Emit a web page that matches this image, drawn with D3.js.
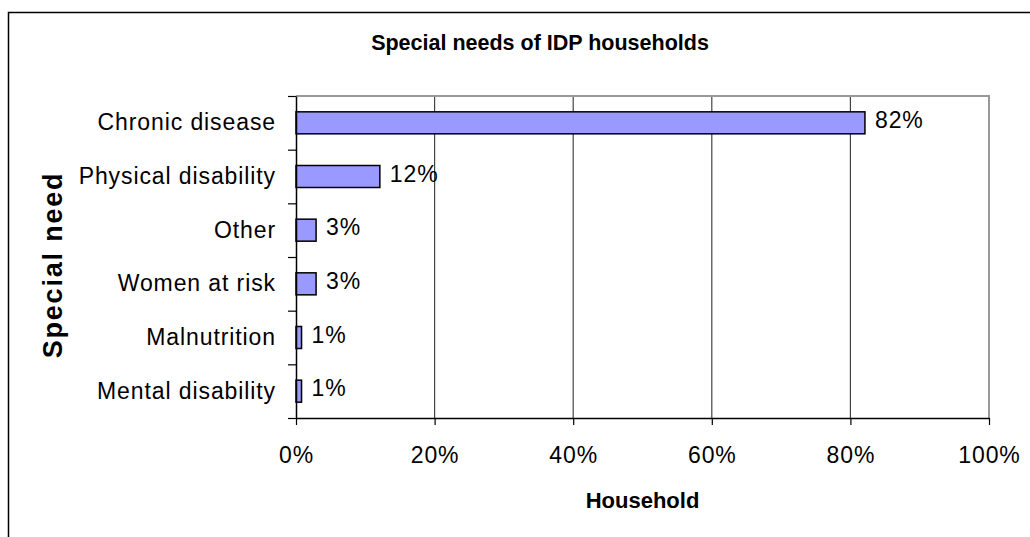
<!DOCTYPE html>
<html>
<head>
	<meta charset="utf-8">
	<title>special-needs-bar</title>
	<style type="text/css">
		body { margin: 0; background: #fff; }
		text { font-family: "Liberation Sans", Arial, sans-serif; }
	</style>
</head>
<body>
<script type="text/javascript" src="https://cdn.jsdelivr.net/npm/d3@7"></script>
<script type="text/javascript">
	// data
	var categories = ["Chronic disease", "Physical disability", "Other", "Women at risk", "Malnutrition", "Mental disability"];
	var values = [82.1, 12.1, 2.9, 2.9, 0.8, 0.8];
	var valueLabels = ["82%", "12%", "3%", "3%", "1%", "1%"];
	var xTicks = [0, 20, 40, 60, 80, 100];

	// size
	var w = 1030, h = 537;
	var plot = {left: 296, right: 989, top: 96, bottom: 418};
	var fs = 23, ls = 0.9; // text size + letter spacing (pdf-ish wide text)

	var svg = d3.select("body").append("svg").attr("width", w).attr("height", h);

	// outer frame (right and bottom edges run off the page)
	svg.append("rect")
		.attr("x", 8.5).attr("y", 12.5)
		.attr("width", w + 20).attr("height", h + 20)
		.attr("fill", "none").attr("stroke", "#000").attr("stroke-width", 1.5);

	/*=====SCALES=====*/
	var x = d3.scaleLinear().domain([0, 100]).range([plot.left, plot.right]);
	var y = d3.scaleBand().domain(categories).range([plot.top, plot.bottom])
		.paddingInner(0.59).paddingOuter(0.295);
	var yEdge = d3.scaleLinear().domain([0, categories.length]).range([plot.top, plot.bottom]);

	// grid
	svg.append("g").selectAll("line")
		.data(xTicks.slice(1, -1))
		.enter().append("line")
		.attr("x1", d => x(d)).attr("x2", d => x(d))
		.attr("y1", plot.top).attr("y2", plot.bottom)
		.attr("stroke", "#444").attr("stroke-width", 1.2);

	// plot frame top + right (grey)
	svg.append("path")
		.attr("d", "M" + plot.left + "," + plot.top + "H" + plot.right + "V" + plot.bottom)
		.attr("fill", "none").attr("stroke", "#999").attr("stroke-width", 2);

	/*=====BARS=====*/
	svg.append("g").selectAll("rect")
		.data(values)
		.enter().append("rect")
		.attr("x", x(0))
		.attr("y", (d, i) => y(categories[i]))
		.attr("width", d => x(d) - x(0))
		.attr("height", y.bandwidth())
		.attr("fill", "#9999ff")
		.attr("stroke", "#000").attr("stroke-width", 1.5);

	// value labels
	svg.append("g").selectAll("text")
		.data(values)
		.enter().append("text")
		.attr("x", d => x(d) + 10)
		.attr("y", (d, i) => y(categories[i]) + y.bandwidth() / 2 - 3)
		.attr("dominant-baseline", "central")
		.attr("font-size", fs).attr("letter-spacing", ls)
		.attr("fill", "#000")
		.text((d, i) => valueLabels[i]);

	/*=====AXES=====*/
	var xAxis = svg.append("g")
		.attr("transform", "translate(0," + plot.bottom + ")")
		.call(d3.axisBottom(x).tickValues(xTicks).tickFormat(d => d + "%").tickSize(7).tickPadding(22).tickSizeOuter(0));
	xAxis.select(".domain").attr("stroke", "#000").attr("stroke-width", 1.5);
	xAxis.selectAll(".tick line").attr("stroke", "#000").attr("stroke-width", 1.2);
	xAxis.selectAll("text").attr("font-size", fs).attr("letter-spacing", ls).attr("font-family", null).attr("fill", "#000");

	// y axis: ticks sit on category boundaries
	var yTickAxis = svg.append("g")
		.attr("transform", "translate(" + plot.left + ",0)")
		.call(d3.axisLeft(yEdge).tickValues(d3.range(categories.length + 1)).tickFormat("").tickSize(8).tickSizeOuter(0));
	yTickAxis.select(".domain").attr("stroke", "#000").attr("stroke-width", 1.5);
	yTickAxis.selectAll(".tick line").attr("stroke", "#000").attr("stroke-width", 1.2);

	var yLabels = svg.append("g")
		.attr("transform", "translate(" + plot.left + ",0)")
		.call(d3.axisLeft(y).tickSize(0).tickPadding(20));
	yLabels.select(".domain").remove();
	yLabels.selectAll("text").attr("font-size", fs).attr("letter-spacing", ls).attr("font-family", null).attr("fill", "#000");

	/*=====TITLES=====*/
	svg.append("text")
		.attr("x", 540).attr("y", 50)
		.attr("text-anchor", "middle")
		.attr("font-size", 21.5).attr("font-weight", "bold")
		.text("Special needs of IDP households");

	svg.append("text")
		.attr("x", (plot.left + plot.right) / 2).attr("y", 508)
		.attr("text-anchor", "middle")
		.attr("font-size", 22).attr("font-weight", "bold")
		.text("Household");

	svg.append("text")
		.attr("transform", "translate(62," + 265 + ") rotate(-90)")
		.attr("text-anchor", "middle")
		.attr("font-size", 27).attr("font-weight", "bold").attr("letter-spacing", 1.8)
		.text("Special need");
</script>
</body>
</html>
